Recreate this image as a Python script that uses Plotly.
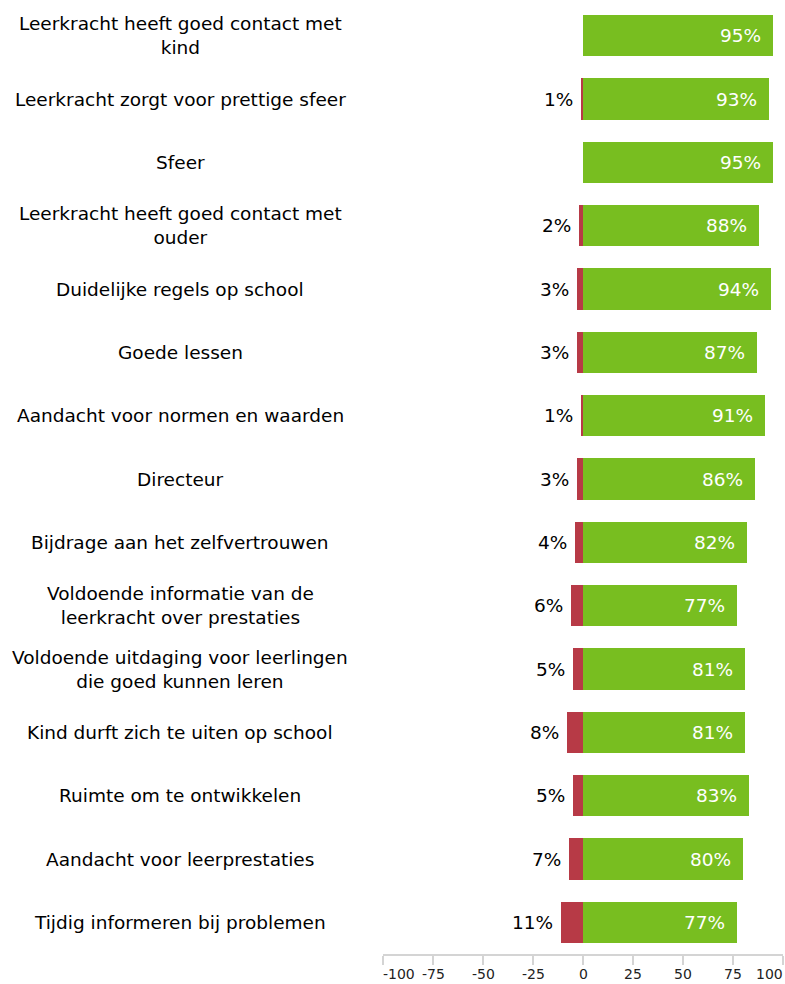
import plotly.graph_objects as go

labels = [
    "Leerkracht heeft goed contact met<br>kind",
    "Leerkracht zorgt voor prettige sfeer",
    "Sfeer",
    "Leerkracht heeft goed contact met<br>ouder",
    "Duidelijke regels op school",
    "Goede lessen",
    "Aandacht voor normen en waarden",
    "Directeur",
    "Bijdrage aan het zelfvertrouwen",
    "Voldoende informatie van de<br>leerkracht over prestaties",
    "Voldoende uitdaging voor leerlingen<br>die goed kunnen leren",
    "Kind durft zich te uiten op school",
    "Ruimte om te ontwikkelen",
    "Aandacht voor leerprestaties",
    "Tijdig informeren bij problemen",
]
negative = [0, 1, 0, 2, 3, 3, 1, 3, 4, 6, 5, 8, 5, 7, 11]
positive = [95, 93, 95, 88, 94, 87, 91, 86, 82, 77, 81, 81, 83, 80, 77]
tick_vals = [-100, -75, -50, -25, 0, 25, 50, 75, 100]

GREEN = "#78BE20"
RED = "#B73A46"
FONT = "DejaVu Sans"
FS = 18.5

cats = list(range(len(labels)))

fig = go.Figure()
fig.add_trace(go.Bar(
    y=cats, x=[-v for v in negative], orientation="h",
    marker=dict(color=RED, line=dict(width=0)), width=0.65,
    hoverinfo="skip",
))
fig.add_trace(go.Bar(
    y=cats, x=positive, orientation="h",
    marker=dict(color=GREEN, line=dict(width=0)), width=0.65,
    hoverinfo="skip",
))

annotations = []
for i, (lab, n, p) in enumerate(zip(labels, negative, positive)):
    annotations.append(dict(
        x=-0.5075, xref="paper", y=i, yref="y", text=lab,
        showarrow=False, xanchor="center", yanchor="middle", align="center",
        font=dict(family=FONT, size=FS, color="#000000"),
    ))
    annotations.append(dict(
        x=p, xref="x", y=i, yref="y", text=f"{p}%",
        showarrow=False, xanchor="right", yanchor="middle", xshift=-10,
        font=dict(family=FONT, size=FS, color="#FFFFFF"),
    ))
    if n > 0:
        annotations.append(dict(
            x=-n, xref="x", y=i, yref="y", text=f"{n}%",
            showarrow=False, xanchor="right", yanchor="middle", xshift=-6,
            font=dict(family=FONT, size=FS, color="#000000"),
        ))

# axis tick labels (end labels justified inside the chart like the reference)
for j, t in enumerate(tick_vals):
    anchor = "left" if j == 0 else ("right" if j == len(tick_vals) - 1 else "center")
    shift = -2 if j == 0 else (2 if j == len(tick_vals) - 1 else 0)
    annotations.append(dict(
        x=t, xref="x", y=0, yref="paper", text=str(t),
        showarrow=False, xanchor=anchor, yanchor="top", yshift=-10, xshift=shift,
        font=dict(family=FONT, size=14, color="#222222"),
    ))

fig.update_layout(
    width=785, height=984,
    margin=dict(l=383, r=2, t=4, b=30),
    barmode="relative",
    bargap=0,
    showlegend=False,
    plot_bgcolor="white",
    paper_bgcolor="white",
    annotations=annotations,
    xaxis=dict(
        range=[-100, 100], tickvals=tick_vals, showticklabels=False,
        showgrid=False, zeroline=False, showline=True, linecolor="#D4D4D4", linewidth=2,
        ticks="outside", ticklen=9, tickwidth=2, tickcolor="#D4D4D4",
        fixedrange=True,
    ),
    yaxis=dict(
        range=[len(labels) - 0.5, -0.5], showticklabels=False, showgrid=False,
        zeroline=False, showline=False, ticks="", fixedrange=True,
    ),
)

fig.write_html(
    "out.html",
    config={"displayModeBar": False},
    post_script="document.body.style.margin='0';document.body.style.overflow='hidden';",
)
